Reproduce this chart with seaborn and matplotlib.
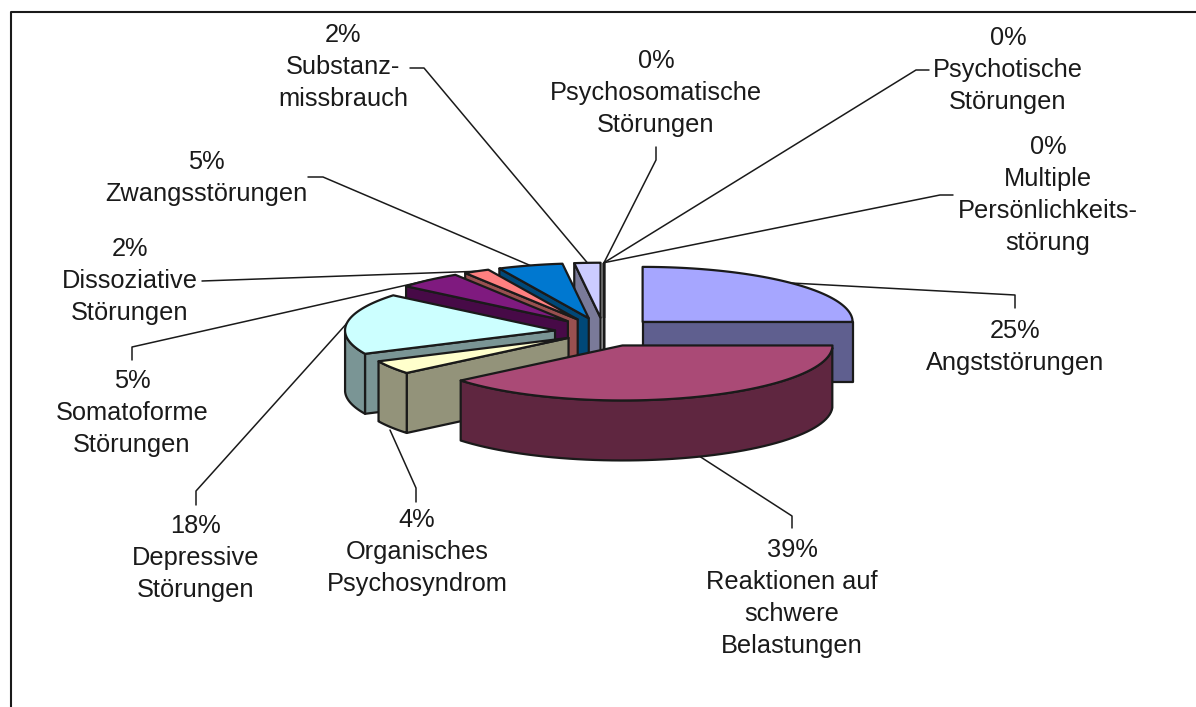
import numpy as np
import matplotlib
matplotlib.use('Agg')
import matplotlib.pyplot as plt
from matplotlib.patches import Polygon
import seaborn as sns

# =============================================
# Chart data
labels = ['Angststörungen', 'Reaktionen auf\nschwere\nBelastungen', 'Organisches\nPsychosyndrom',
          'Depressive\nStörungen', 'Somatoforme\nStörungen', 'Dissoziative\nStörungen',
          'Zwangsstörungen', 'Substanz-\nmissbrauch', 'Psychosomatische\nStörungen',
          'Psychotische\nStörungen', 'Multiple\nPersönlichkeits-\nstörung']
percent = [25, 39, 4, 18, 5, 2, 5, 2, 0, 0, 0]
top_colors = ['#A6A6FF', '#AA4A76', '#FFFFCC', '#CCFFFF', '#7F1A7F', '#FF8080',
              '#0078D0', '#CCCCFF', '#FFFFFF', '#FFFFFF', '#FFFFFF']
wall_colors = ['#5F5F8F', '#5F2640', '#93937A', '#7A9595', '#470A47', '#995050',
               '#004878', '#7A7A99', '#FFFFFF', '#FFFFFF', '#FFFFFF']

# =============================================
# Layout (pixels of the 1196x707 picture)
centre = (604, 332)
rx, ry = 210, 55
depth = 60
explode = [0.26, 0.26, 0.2, 0.235, 0.26, 0.26, 0.26, 0.26, 0.26, 0.26, 0.26]
draw_order = [10, 9, 8, 7, 6, 5, 4, 3, 2, 0, 1]  # back to front

# label centre (x, top of first line) and the two outer points of the leader line
label_pos = [(1015, 319), (792, 538), (417, 508), (196, 514), (132, 369), (130, 237),
             (206, 150), (343, 23), (656, 49), (1008, 26), (1048, 135)]
elbows = [[(1015, 308), (1015, 295)], [(792, 528), (792, 516)], [(416, 502), (416, 488)],
          [(196, 505), (196, 491)], [(132, 360), (132, 347)], [(202, 281), (202, 281)],
          [(308, 177), (323, 177)], [(410, 68), (424, 68)], [(656, 147), (656, 160)],
          [(929, 70), (916, 70)], [(953, 195), (940, 195)]]
# leaders that do not meet the rim at the middle of their slice
leader_end = {1: (696, 454), 2: (390, 430)}

sns.set_theme(style='white')
plt.rcParams['font.family'] = ['Liberation Sans', 'DejaVu Sans']

f = plt.figure(figsize=(11.96, 7.07), dpi=100)
ax = f.add_axes([0, 0, 1, 1])
ax.set_xlim(0, 1196)
ax.set_ylim(707, 0)
ax.axis('off')

# chart frame, only top and left are inside the cropped original
ax.plot([10.5, 10.5, 1196], [707, 11.5, 11.5], color='k', lw=1.5)

# =============================================
# Turn the percentages into slice angles (clockwise from 12 o'clock)
edges = np.cumsum([0] + percent) / sum(percent) * 2 * np.pi


def point(c, t):
    return c[0] + rx * np.sin(t), c[1] - ry * np.cos(t)


def slice_centre(i):
    mid = (edges[i] + edges[i + 1]) / 2
    return centre[0] + explode[i] * rx * np.sin(mid), centre[1] - explode[i] * ry * np.cos(mid)


def draw_slice(i):
    a1, a2 = edges[i], edges[i + 1]
    c = slice_centre(i)
    arc = np.linspace(a1, a2, 60)
    arc_xy = np.array([point(c, t) for t in arc])
    kw = dict(edgecolor='k', lw=1.6, joinstyle='round')

    # side walls, only those facing the viewer
    if np.sin(a1) < 0:
        p = point(c, a1)
        wall = [c, p, (p[0], p[1] + depth), (c[0], c[1] + depth)]
        ax.add_patch(Polygon(wall, facecolor=wall_colors[i], **kw))
    if np.sin(a2) > 0:
        p = point(c, a2)
        wall = [c, p, (p[0], p[1] + depth), (c[0], c[1] + depth)]
        ax.add_patch(Polygon(wall, facecolor=wall_colors[i], **kw))

    # outer rim
    front = arc_xy[np.cos(arc) <= 0]
    if len(front) > 1:
        rim = np.vstack([front, (front + [0, depth])[::-1]])
        ax.add_patch(Polygon(rim, facecolor=wall_colors[i], **kw))

    # top face
    ax.add_patch(Polygon(np.vstack([[c], arc_xy]), facecolor=top_colors[i], **kw))


# =============================================
# Leader lines go under the slices, labels on top
for i in range(len(percent)):
    mid = (edges[i] + edges[i + 1]) / 2
    end = leader_end.get(i, point(slice_centre(i), mid))
    xs = [elbows[i][0][0], elbows[i][1][0], end[0]]
    ys = [elbows[i][0][1], elbows[i][1][1], end[1]]
    ax.plot(xs, ys, color='k', lw=1.1, zorder=1)

for i in draw_order:
    draw_slice(i)

for i in range(len(percent)):
    ax.text(label_pos[i][0], label_pos[i][1], '%d%%\n%s' % (percent[i], labels[i]),
            ha='center', va='top', fontsize=18.3, linespacing=1.42, color='k')

plt.savefig('out.png', dpi=100)
plt.close()
